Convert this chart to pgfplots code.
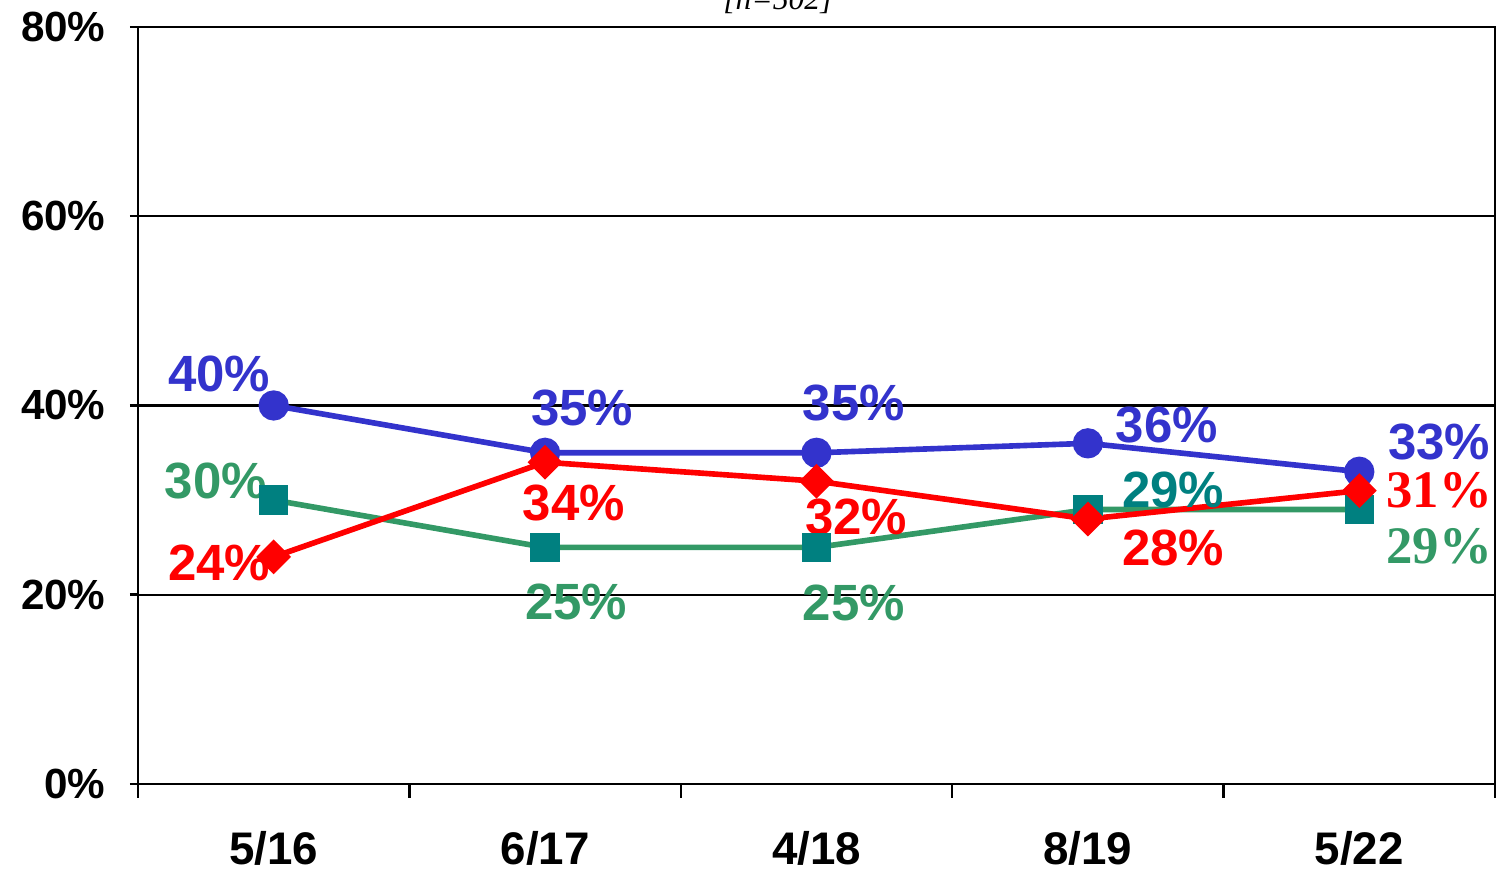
\documentclass[border=0pt]{standalone}
\usepackage{pgfplots}
\pgfplotsset{compat=1.18}
\usepackage{fontspec}
\setmainfont{Liberation Sans}
\newfontfamily\serif{Liberation Serif}

\definecolor{cblue}{HTML}{3333CC}
\definecolor{cred}{HTML}{FF0000}
\definecolor{cgreen}{HTML}{339966}
\definecolor{cteal}{HTML}{008080}

% data labels: size in pt
\newcommand{\lab}[4]{\node[text=#3,font=\fontsize{14.5}{16}\selectfont\bfseries,inner sep=0pt] at (axis cs:#1,#2) {#4};}
\newcommand{\slab}[4]{\node[text=#3,font=\fontsize{15}{17}\selectfont\serif\bfseries,inner sep=0pt] at (axis cs:#1,#2) {#4};}

\begin{document}
\begin{tikzpicture}
\begin{axis}[
    scale only axis,
    width=13.57cm, height=7.57cm,
    xmin=-0.5, xmax=4.5,
    ymin=0, ymax=80,
    xtick={0,1,2,3,4},
    xticklabels={5/16,6/17,4/18,8/19,5/22},
    minor xtick={-0.5,0.5,1.5,2.5,3.5,4.5},
    ytick={0,20,40,60,80},
    yticklabel={\pgfmathprintnumber{\tick}\%},
    ymajorgrids,
    grid style={black, line width=0.6pt},
    axis line style={black, line width=0.7pt},
    tick style={black, line width=0.7pt},
    tick align=outside,
    x tick style={draw=none},
    minor x tick style={draw=black},
    minor tick length=0.14cm,
    major tick length=0.08cm,
    xtick pos=bottom, ytick pos=left,
    yticklabel style={font=\fontsize{12}{13}\selectfont\bfseries, xshift=-0.1cm},
    xticklabel style={font=\fontsize{13}{14}\selectfont\bfseries, yshift=-0.25cm},
    /pgf/number format/assume math mode=true,
    line width=1.6pt,
    clip=false,
]
\addplot[color=cgreen, mark=square*, mark size=3.4pt, mark options={fill=cteal, draw=cteal}] coordinates {
    (0,30) (1,25) (2,25) (3,29) (4,29)
};
\addplot[color=cblue, mark=*, mark size=3.5pt, mark options={fill=cblue}] coordinates {
    (0,40) (1,35) (2,35) (3,36) (4,33)
};
\addplot[color=cred, mark=square*, mark size=2.7pt, mark options={fill=cred, rotate=45}] coordinates {
    (0,24) (1,34) (2,32) (3,28) (4,31)
};

\lab{-0.2015}{43.33}{cblue}{40\%}
\lab{1.136}{39.74}{cblue}{35\%}
\lab{2.138}{40.26}{cblue}{35\%}
\lab{3.291}{37.94}{cblue}{36\%}
\lab{4.294}{36.14}{cblue}{33\%}

\lab{-0.213}{32.02}{cgreen}{30\%}
\lab{1.114}{19.23}{cgreen}{25\%}
\lab{2.138}{19.13}{cgreen}{25\%}
\lab{3.314}{31.07}{cteal}{29\%}
\slab{4.294}{25.15}{cgreen}{29\%}

\lab{-0.2015}{23.36}{cred}{24\%}
\lab{1.106}{29.70}{cred}{34\%}
\lab{2.146}{28.22}{cred}{32\%}
\lab{3.314}{24.94}{cred}{28\%}
\slab{4.294}{31.07}{cred}{31\%}

\node[anchor=base, font=\fontsize{9}{10}\selectfont\serif\itshape] at (rel axis cs:0.4716,1.0236) {[\textit{n}=502]};
\end{axis}
\pgfresetboundingbox
\path[use as bounding box] ([shift={(-1.38cm,-0.96cm)}]current axis.south west) rectangle ([shift={(0.14cm,0.27cm)}]current axis.north east);
\end{tikzpicture}
\end{document}
